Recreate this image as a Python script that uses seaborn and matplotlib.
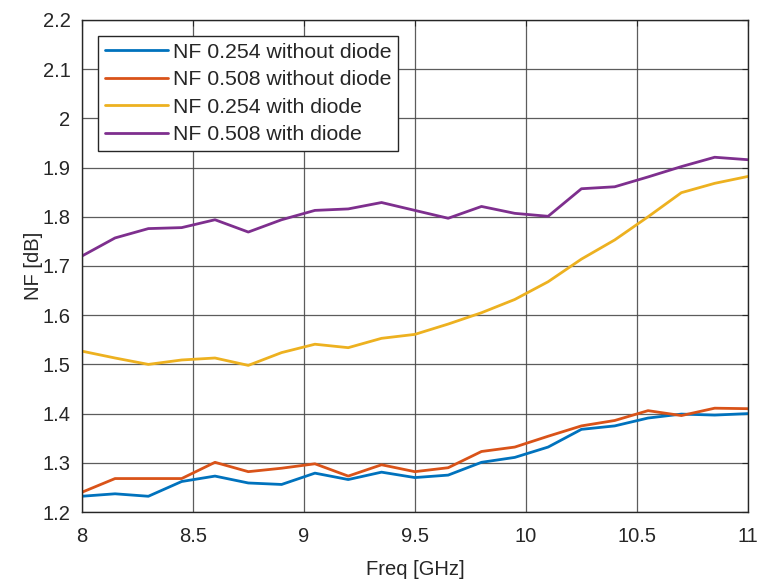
import numpy as np
import pandas as pd
import matplotlib
matplotlib.use("Agg")
import matplotlib.pyplot as plt
import seaborn as sns

freq = [8.0, 8.15, 8.3, 8.45, 8.6, 8.75, 8.9, 9.05, 9.2, 9.35, 9.5,
        9.65, 9.8, 9.95, 10.1, 10.25, 10.4, 10.55, 10.7, 10.85, 11.0]

nf_0254_without = [1.232, 1.237, 1.232, 1.262, 1.273, 1.259, 1.256, 1.279, 1.266, 1.281, 1.270,
                   1.275, 1.301, 1.311, 1.332, 1.368, 1.375, 1.391, 1.399, 1.397, 1.400]
nf_0508_without = [1.240, 1.268, 1.268, 1.268, 1.301, 1.282, 1.289, 1.298, 1.273, 1.296, 1.282,
                   1.290, 1.323, 1.332, 1.354, 1.375, 1.386, 1.406, 1.396, 1.411, 1.410]
nf_0254_with = [1.527, 1.513, 1.500, 1.509, 1.513, 1.498, 1.524, 1.541, 1.534, 1.553, 1.561,
                1.582, 1.605, 1.632, 1.668, 1.714, 1.753, 1.800, 1.849, 1.868, 1.882]
nf_0508_with = [1.720, 1.757, 1.776, 1.778, 1.794, 1.769, 1.794, 1.813, 1.816, 1.829, 1.813,
                1.797, 1.821, 1.807, 1.801, 1.857, 1.861, 1.881, 1.902, 1.921, 1.916]

labels = ["NF 0.254 without diode", "NF 0.508 without diode",
          "NF 0.254 with diode", "NF 0.508 with diode"]
colors = ["#0072BD", "#D95319", "#EDB120", "#7E2F8E"]

x_ticks = [8, 8.5, 9, 9.5, 10, 10.5, 11]
x_ticklabels = ["8", "8.5", "9", "9.5", "10", "10.5", "11"]
y_ticks = [1.2, 1.3, 1.4, 1.5, 1.6, 1.7, 1.8, 1.9, 2.0, 2.1, 2.2]
y_ticklabels = ["1.2", "1.3", "1.4", "1.5", "1.6", "1.7", "1.8", "1.9", "2", "2.1", "2.2"]

series = [nf_0254_without, nf_0508_without, nf_0254_with, nf_0508_with]
df = pd.concat([pd.DataFrame({"Freq": freq, "NF": s, "Series": lab})
                for s, lab in zip(series, labels)], ignore_index=True)

sns.set_style("white")
plt.rcParams['font.family'] = ['Liberation Sans', 'DejaVu Sans']

fig = plt.figure(figsize=(7.61, 5.79), dpi=100)
ax = fig.add_axes([0.1074, 0.1157, 0.9829 - 0.1074, 0.9655 - 0.1157])

sns.lineplot(data=df, x="Freq", y="NF", hue="Series", hue_order=labels,
             palette=colors, linewidth=2.0, ax=ax, sort=False)

ax.set_xlim(8, 11)
ax.set_ylim(1.2, 2.2)
ax.set_xticks(x_ticks)
ax.set_xticklabels(x_ticklabels)
ax.set_yticks(y_ticks)
ax.set_yticklabels(y_ticklabels)
ax.grid(True, color="#4a4a4a", linewidth=0.9, alpha=0.9)
ax.set_axisbelow(True)
for sp in ax.spines.values():
    sp.set_visible(True)
    sp.set_color("#262626")
    sp.set_linewidth(1.0)
ax.tick_params(axis="both", direction="in", length=4, width=0.8, colors="#262626",
               labelsize=14.5, labelcolor="#262626", top=True, right=True)
ax.tick_params(axis="x", pad=11)
ax.tick_params(axis="y", pad=8)
ax.set_xlabel("Freq [GHz]", fontsize=14.5, color="#262626", labelpad=10)
ax.set_ylabel("NF [dB]", fontsize=14.5, color="#262626", labelpad=0)

leg = ax.legend(loc="upper left", bbox_to_anchor=(0.0245, 0.9675), borderaxespad=0,
                fontsize=15.3, frameon=True, fancybox=False, framealpha=1,
                edgecolor="#262626", handlelength=2.95, handletextpad=0.25,
                labelspacing=0.4, borderpad=0.32)
leg.get_frame().set_linewidth(1.0)
for t in leg.get_texts():
    t.set_color("#262626")

fig.savefig("out.png", dpi=100)
